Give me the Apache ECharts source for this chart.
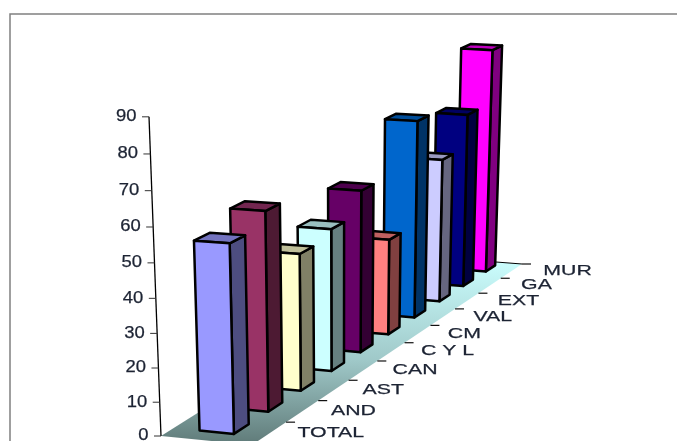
<!DOCTYPE html>
<html><head><meta charset="utf-8">
<style>html,body{margin:0;padding:0;background:#fff;overflow:hidden}#c{width:677px;height:441px}</style>
<script src="https://cdn.jsdelivr.net/npm/echarts@6/dist/echarts.min.js"></script>
</head><body><div id="c"></div>
<script>
const categories = ['TOTAL','AND','AST','CAN','C Y L','CM','VAL','EXT','GA','MUR'];
const values = [54.9,58.9,41.4,43.7,50.5,30.5,63.2,46.8,57.2,74.4];
const frontColors = ['#9999FF','#993366','#FFFFCC','#CCFFFF','#660066','#FF8080','#0066CC','#CCCCFF','#000080','#FF00FF'];
const sideColors = ['#4D4D80','#4D1A33','#808066','#668080','#330033','#804040','#003366','#666680','#000040','#800080'];
const topColors = ['#7373BF','#732650','#BFBF99','#99BFBF','#4D004D','#BF6060','#004D99','#9999BF','#000060','#BF00BF'];
const valueTicks = [0,10,20,30,40,50,60,70,80,90];

/* projection of the flat cartesian grid onto the chart's 3D floor */
const G = {l:100,t:100,w:100,h:90};
const P0=[161,436],P1=[444,258],P2=[522,264],P3=[252,445];
const VP=[340,5200], WARP=0.08;
const sx=P0[0]-P1[0]+P2[0]-P3[0], sy=P0[1]-P1[1]+P2[1]-P3[1];
const dx1=P1[0]-P2[0],dx2=P3[0]-P2[0],dy1=P1[1]-P2[1],dy2=P3[1]-P2[1];
const det=dx1*dy2-dx2*dy1;
const hg=(sx*dy2-dx2*sy)/det, hh=(dx1*sy-sx*dy1)/det;
function proj(t,w,v){
  const u0=t/10, u=u0*(1+WARP)/(1+WARP*u0), den=1+hg*u+hh*w;
  const x=((P1[0]-P0[0]+hg*P1[0])*u+(P3[0]-P0[0]+hh*P3[0])*w+P0[0])/den;
  const y=((P1[1]-P0[1]+hg*P1[1])*u+(P3[1]-P0[1]+hh*P3[1])*w+P0[1])/den;
  const L=(3.36*v+0.0021*v*v)/den;
  const ax=VP[0]-x, ay=VP[1]-y, n=Math.hypot(ax,ay);
  return [x-ax/n*L, y-ay/n*L];
}
function flat(api,i,v){
  const c=api.coord([i,v]);
  return {t:(c[0]-G.l)/G.w*10, v:(G.t+G.h-c[1])/G.h*90};
}
const FONT='"Liberation Sans",Arial,sans-serif';
const INK='#1c2333';

const floorSeries={type:'custom',coordinateSystem:'cartesian2d',silent:true,data:[[0,0]],z:1,
  renderItem(){
    return {type:'group',children:[
      {type:'polygon',z2:1,shape:{points:[proj(0,0,0),proj(10,0,0),proj(10,1,0),proj(0,1,0)]},
       style:{fill:{type:'linear',x:0,y:1,x2:0,y2:0,colorStops:[{offset:0,color:'#5f7a78'},{offset:0.45,color:'#9fc8c8'},{offset:1,color:'#ccffff'}]}}},
      {type:'line',z2:2,shape:{x1:proj(10,0,0)[0],y1:proj(10,0,0)[1],x2:proj(10,1,0)[0],y2:proj(10,1,0)[1]},style:{stroke:'#000',lineWidth:1}},
      {type:'polyline',z2:2,shape:{points:[proj(0,0,0),proj(0,0,90)]},style:{stroke:'#000',lineWidth:1.3,fill:null}}
    ]};
  }};
const valueAxisSeries={type:'custom',coordinateSystem:'cartesian2d',silent:true,z:2,
  data:valueTicks.map(v=>[0,v]),
  renderItem(p,api){
    const v=api.value(1), yy=api.coord([0,v])[1];
    const val=(G.t+G.h-yy)/G.h*90, a=proj(0,0,val);
    return {type:'group',children:[
      {type:'line',shape:{x1:a[0]-7,y1:a[1],x2:a[0],y2:a[1]},style:{stroke:'#333',lineWidth:1}},
      {type:'text',x:a[0]-12.5,y:a[1],scaleX:1.15,style:{text:String(v),x:0,y:0,align:'right',verticalAlign:'middle',fill:INK,stroke:INK,lineWidth:0.25,font:'16px '+FONT}}
    ]};
  }};
const catAxisSeries={type:'custom',coordinateSystem:'cartesian2d',silent:true,z:2,
  data:categories.map((c,i)=>[i,0]),
  renderItem(p,api){
    const i=api.value(0), f=flat(api,i,0);
    const mid=proj(f.t,1,0), a=proj(f.t+0.5,1,0);
    return {type:'group',children:[
      {type:'line',shape:{x1:a[0],y1:a[1],x2:a[0]+9,y2:a[1]},style:{stroke:'#111',lineWidth:1.2}},
      {type:'text',x:mid[0]+28+0.4*f.t,y:mid[1]-0.5,scaleX:1.42,style:{text:categories[i],x:0,y:0,align:'left',verticalAlign:'middle',fill:INK,stroke:INK,lineWidth:0.25,font:'15px '+FONT}}
    ]};
  }};
const barSeries={type:'custom',coordinateSystem:'cartesian2d',silent:true,z:3,
  data:values.map((v,i)=>[i,v]),
  renderItem(p,api){
    const i=api.value(0), f=flat(api,i,api.value(1));
    const t0=f.t-0.15,t1=f.t+0.28,wc=0.475+0.0055*f.t,w0=wc-0.19,w1=wc+0.19,v=f.v;
    const st=c=>({fill:c,stroke:'#000',lineWidth:2.5,lineJoin:'round'});
    const z=20+(categories.length-i)*3;
    return {type:'group',children:[
      {type:'polygon',z2:z,shape:{points:[proj(t0,w1,0),proj(t1,w1,0),proj(t1,w1,v),proj(t0,w1,v)]},style:st(sideColors[i])},
      {type:'polygon',z2:z,shape:{points:[proj(t0,w0,v),proj(t0,w1,v),proj(t1,w1,v),proj(t1,w0,v)]},style:st(topColors[i])},
      {type:'polygon',z2:z+1,shape:{points:[proj(t0,w0,0),proj(t0,w1,0),proj(t0,w1,v),proj(t0,w0,v)]},style:st(frontColors[i])}
    ]};
  }};
const chart=echarts.init(document.getElementById('c'),null,{renderer:'canvas'});
chart.setOption({
  animation:false,backgroundColor:'#fff',
  graphic:[{type:'rect',z:0,shape:{x:10,y:14,width:700,height:450},style:{fill:'none',stroke:'#808080',lineWidth:1.5}}],
  grid:{left:G.l,top:G.t,width:G.w,height:G.h},
  xAxis:{type:'category',data:categories,show:false},
  yAxis:{type:'value',min:0,max:90,interval:10,show:false},
  series:[floorSeries,valueAxisSeries,catAxisSeries,barSeries]
});
</script></body></html>
